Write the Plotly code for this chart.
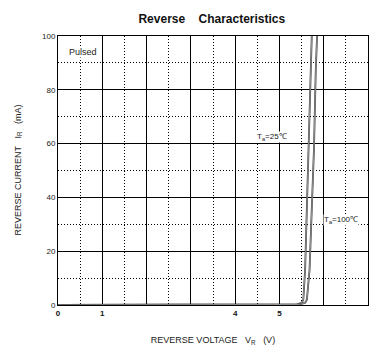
import plotly.graph_objects as go

# Data
v_25 = [0, 5.0, 5.40, 5.50, 5.54, 5.58, 5.63, 5.66, 5.70, 5.73]
i_25 = [0, 0, 0.2, 0.8, 2, 13, 43, 58, 87, 100]
v_100 = [0, 5.0, 5.45, 5.58, 5.62, 5.68, 5.75, 5.78, 5.82, 5.85]
i_100 = [0, 0, 0.2, 0.8, 2, 13, 43, 58, 87, 100]

x_tickvals = [0, 1, 2, 3, 4, 5, 6, 7]
x_ticktext = ["0", "1", "", "", "4", "5", "", ""]
x_minorvals = [0.5, 1.5, 2.5, 3.5, 4.5, 5.5, 6.5]
y_tickvals = [0, 20, 40, 60, 80, 100]
y_ticktext = ["0", "20", "40", "60", "80", "100"]
y_minorvals = [10, 30, 50, 70, 90]

FONT = "Liberation Sans, Arial, sans-serif"

fig = go.Figure()
for v, i in [(v_25, i_25), (v_100, i_100)]:
    fig.add_trace(go.Scatter(x=v, y=i, mode="lines",
                             line=dict(color="#3a3a3a", width=1.8),
                             showlegend=False, hoverinfo="skip"))
    fig.add_trace(go.Scatter(x=v, y=i, mode="lines",
                             line=dict(color="#a8a8a8", width=0.8),
                             showlegend=False, hoverinfo="skip"))

fig.update_layout(
    width=381, height=350,
    margin=dict(l=50, r=21, t=28, b=53),
    paper_bgcolor="white", plot_bgcolor="white",
    font=dict(family=FONT, color="#222", size=8),
    title=dict(text="<b>Reverse\u00a0\u00a0\u00a0\u00a0Characteristics</b>",
               x=0.535, xanchor="center", y=0.969, yanchor="middle",
               font=dict(size=12, color="#111")),
    xaxis=dict(range=[0, 7], tickmode="array", tickvals=x_tickvals, ticktext=x_ticktext,
               showgrid=True, gridcolor="black", gridwidth=1,
               showline=True, linecolor="black", linewidth=1, mirror=True,
               ticks="", zeroline=False,
               tickfont=dict(size=8, color="#111", family=FONT, weight="bold"),
               minor=dict(tickmode="array", tickvals=x_minorvals, showgrid=True, gridcolor="black",
                          griddash="1px,2px", gridwidth=1, ticks=""),
               title=dict(text="REVERSE VOLTAGE\u00a0\u00a0\u00a0V<sub>R</sub>\u00a0\u00a0\u00a0(V)",
                          font=dict(size=9, color="#222"), standoff=20)),
    yaxis=dict(range=[0, 100], tickmode="array", tickvals=y_tickvals, ticktext=y_ticktext,
               showgrid=True, gridcolor="black", gridwidth=1,
               showline=True, linecolor="black", linewidth=1, mirror=True,
               ticks="", zeroline=False,
               tickfont=dict(size=8, color="#222"),
               minor=dict(tickmode="array", tickvals=y_minorvals, showgrid=True, gridcolor="black",
                          griddash="1px,2px", gridwidth=1, ticks="")),
)

fig.add_annotation(x=-0.129, y=0.5, xref="paper", yref="paper",
                   text="REVERSE CURRENT\u00a0\u00a0\u00a0I<sub>R</sub>\u00a0\u00a0\u00a0(mA)",
                   textangle=-90, showarrow=False, xanchor="center", yanchor="middle",
                   font=dict(size=9, color="#222"))
fig.add_annotation(x=0.22, y=94, xref="x", yref="y", text="Pulsed", showarrow=False,
                   xanchor="left", yanchor="middle", bgcolor="white", borderpad=0,
                   font=dict(size=9, color="#222"))
fig.add_annotation(x=4.48, y=62.5, xref="x", yref="y", text="T<sub>a</sub>=25\u2103", showarrow=False,
                   xanchor="left", yanchor="middle", bgcolor="white", borderpad=0,
                   font=dict(size=8, color="#222"))
fig.add_annotation(x=5.98, y=31.5, xref="x", yref="y", text="T<sub>a</sub>=100\u2103", showarrow=False,
                   xanchor="left", yanchor="middle", bgcolor="white", borderpad=0,
                   font=dict(size=8, color="#222"))

fig.write_html("out.html")
